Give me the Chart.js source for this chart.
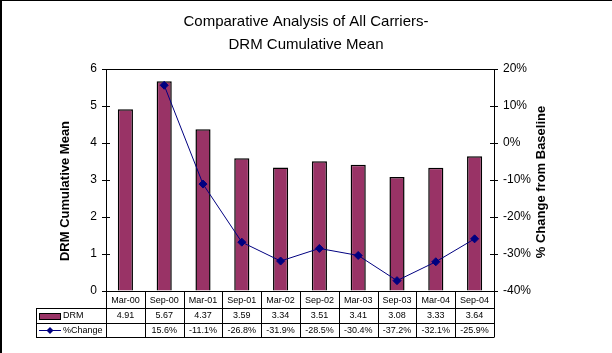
<!DOCTYPE html>
<html>
<head>
<meta charset="utf-8">
<script src="https://cdn.jsdelivr.net/npm/chart.js@4"></script>
<style>
  html, body { margin: 0; padding: 0; background: #fff; }
</style>
</head>
<body>
<canvas id="myChart" width="612" height="353"></canvas>
<script>
// dados do gráfico
var categories = ['Mar-00', 'Sep-00', 'Mar-01', 'Sep-01', 'Mar-02', 'Sep-02', 'Mar-03', 'Sep-03', 'Mar-04', 'Sep-04']
var drmValues = [4.91, 5.67, 4.37, 3.59, 3.34, 3.51, 3.41, 3.08, 3.33, 3.64]
var pctChange = [null, 15.6, -11.1, -26.8, -31.9, -28.5, -30.4, -37.2, -32.1, -25.9]
var drmLabel = 'DRM'
var pctLabel = '%Change'

var fontFamily = 'Arial, "Liberation Sans", sans-serif'
var barColor = '#993366'
var lineColor = '#000080'

// moldura, títulos dos eixos e tabela de dados
var extras = {
    id: 'extras',
    afterDraw: function (chart) {
        var ctx = chart.ctx
        var area = chart.chartArea
        var xs = chart.scales.x
        var colW = (area.right - area.left) / categories.length

        ctx.save()
        ctx.fillStyle = '#000'
        ctx.fillRect(0, 0, 2, chart.height)
        ctx.fillRect(0, 0, chart.width, 1)

        ctx.strokeStyle = '#000'
        ctx.lineWidth = 1
        ctx.strokeRect(Math.round(area.left) + 0.5, Math.round(area.top) + 0.5,
            Math.round(area.right - area.left), Math.round(area.bottom - area.top))

        // marcas que cruzam os eixos (lado de dentro)
        ctx.beginPath()
        chart.scales.y.ticks.forEach(function (t) {
            var ty = Math.round(chart.scales.y.getPixelForValue(t.value)) + 0.5
            ctx.moveTo(area.left, ty)
            ctx.lineTo(area.left + 4, ty)
        })
        chart.scales.y1.ticks.forEach(function (t) {
            var ty = Math.round(chart.scales.y1.getPixelForValue(t.value)) + 0.5
            ctx.moveTo(area.right - 4, ty)
            ctx.lineTo(area.right, ty)
        })
        ctx.stroke()

        // títulos dos eixos
        ctx.font = 'bold 13px ' + fontFamily
        ctx.textAlign = 'center'
        ctx.textBaseline = 'middle'
        ctx.save()
        ctx.translate(65, 191)
        ctx.rotate(-Math.PI / 2)
        ctx.fillText('DRM Cumulative Mean', 0, 0)
        ctx.restore()
        ctx.save()
        ctx.translate(541, 182)
        ctx.rotate(-Math.PI / 2)
        ctx.fillText('% Change from Baseline', 0, 0)
        ctx.restore()

        // tabela
        var left = 36
        var y0 = Math.round(area.bottom) + 0.5
        var y1 = 308.5, y2 = 323.5, y3 = 337.5
        ctx.beginPath()
        for (var i = 0; i <= categories.length; i++) {
            var bx = Math.round(area.left + i * colW) + 0.5
            ctx.moveTo(bx, y0)
            ctx.lineTo(bx, y3)
        }
        ctx.moveTo(left + 0.5, y1)
        ctx.lineTo(left + 0.5, y3)
        ctx.moveTo(left, y1)
        ctx.lineTo(area.right, y1)
        ctx.moveTo(left, y2)
        ctx.lineTo(area.right, y2)
        ctx.moveTo(left, y3)
        ctx.lineTo(area.right, y3)
        ctx.stroke()

        ctx.font = '9px ' + fontFamily
        ctx.fillStyle = '#000'
        for (var j = 0; j < categories.length; j++) {
            var cx = xs.getPixelForValue(j)
            ctx.fillText(categories[j], cx, 300.5)
            ctx.fillText(drmValues[j].toFixed(2), cx, 316)
            if (pctChange[j] !== null) {
                ctx.fillText(pctChange[j].toFixed(1) + '%', cx, 330.5)
            }
        }

        // chaves da legenda
        ctx.fillStyle = barColor
        ctx.fillRect(39.5, 313.5, 21, 6)
        ctx.strokeRect(39.5, 313.5, 21, 6)
        ctx.strokeStyle = lineColor
        ctx.beginPath()
        ctx.moveTo(39, 330.5)
        ctx.lineTo(61, 330.5)
        ctx.stroke()
        ctx.fillStyle = lineColor
        ctx.beginPath()
        ctx.moveTo(50, 327)
        ctx.lineTo(53.5, 330.5)
        ctx.lineTo(50, 334)
        ctx.lineTo(46.5, 330.5)
        ctx.closePath()
        ctx.fill()

        ctx.fillStyle = '#000'
        ctx.textAlign = 'left'
        ctx.fillText(drmLabel, 63, 316)
        ctx.fillText(pctLabel, 63, 330.5)
        ctx.restore()
    }
}

var ctx = document.getElementById('myChart').getContext('2d')
var myChart = new Chart(ctx, {
    type: 'bar',
    data: {
        labels: categories,
        datasets: [{
            type: 'line',
            label: pctLabel,
            data: pctChange,
            yAxisID: 'y1',
            borderColor: lineColor,
            backgroundColor: lineColor,
            borderWidth: 1,
            pointStyle: 'rectRot',
            pointRadius: 4,
            tension: 0,
            order: 0
        }, {
            label: drmLabel,
            data: drmValues,
            yAxisID: 'y',
            backgroundColor: barColor,
            borderColor: '#000',
            borderWidth: 1.5,
            categoryPercentage: 1,
            barPercentage: 0.39,
            order: 1
        }]
    },
    options: {
        responsive: false,
        animation: false,
        layout: { padding: { left: 0, right: 0, top: 0, bottom: 62 } },
        plugins: {
            legend: { display: false },
            tooltip: { enabled: false },
            title: {
                display: true,
                text: ['Comparative Analysis of All Carriers-', 'DRM Cumulative Mean'],
                color: '#000',
                font: { family: fontFamily, size: 15, weight: 'normal', lineHeight: 1.5 },
                padding: { top: 11, bottom: 13 }
            }
        },
        scales: {
            x: {
                display: false,
                offset: true
            },
            y: {
                position: 'left',
                min: 0,
                max: 6,
                ticks: { stepSize: 1, color: '#000', padding: 5, font: { family: fontFamily, size: 12 } },
                grid: { drawOnChartArea: false, tickLength: 4, color: '#000' },
                border: { color: '#000' },
                afterFit: function (scale) { scale.width = 106 }
            },
            y1: {
                position: 'right',
                min: -40,
                max: 20,
                ticks: {
                    stepSize: 10, color: '#000', padding: 5, font: { family: fontFamily, size: 12 },
                    callback: function (v) { return v + '%' }
                },
                grid: { drawOnChartArea: false, tickLength: 4, color: '#000' },
                border: { color: '#000' },
                afterFit: function (scale) { scale.width = 118 }
            }
        }
    },
    plugins: [extras]
})
</script>
</body>
</html>
